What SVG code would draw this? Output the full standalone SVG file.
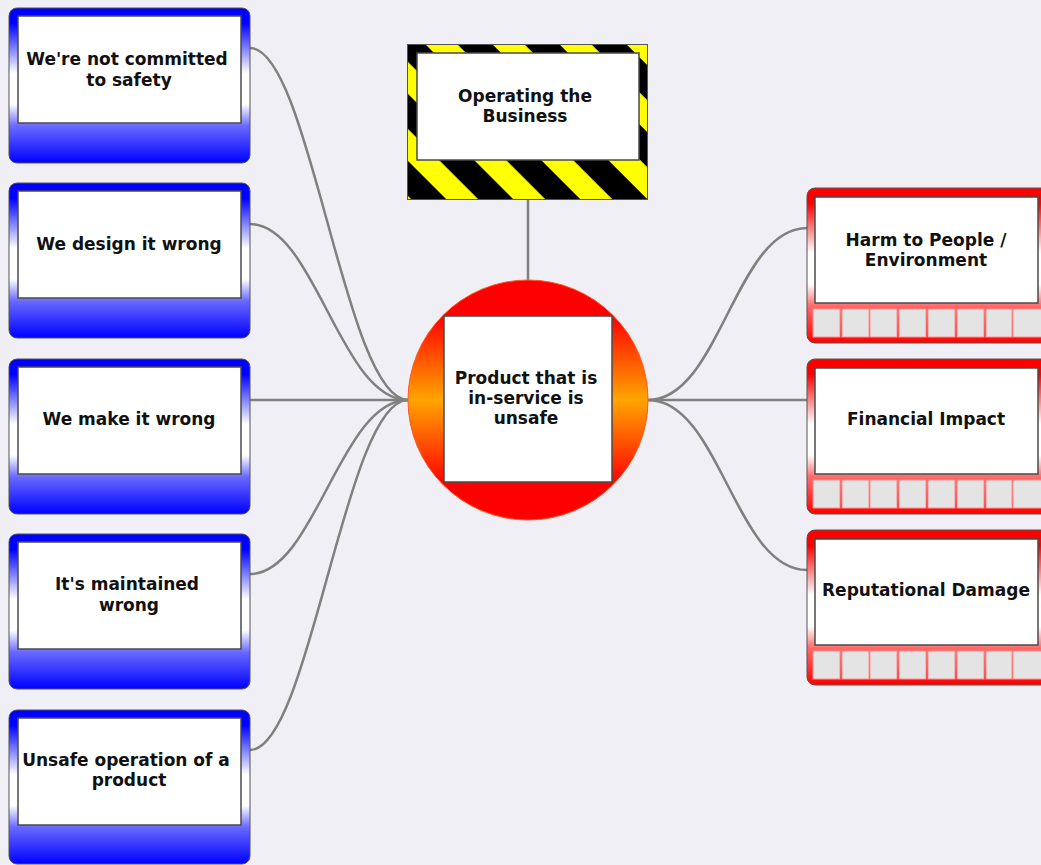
<svg xmlns="http://www.w3.org/2000/svg" width="1041" height="865" viewBox="0 0 1041 865">
<defs>
<linearGradient id="gBlue" x1="0" y1="0" x2="0" y2="1">
<stop offset="0" stop-color="#0000ff"/>
<stop offset="0.1" stop-color="#0000ff"/>
<stop offset="0.42" stop-color="#ffffff"/>
<stop offset="0.62" stop-color="#ffffff"/>
<stop offset="0.76" stop-color="#6a6aff"/>
<stop offset="1" stop-color="#0000ff"/>
</linearGradient>
<linearGradient id="gRed" x1="0" y1="0" x2="0" y2="1">
<stop offset="0" stop-color="#ff0000"/>
<stop offset="0.1" stop-color="#ff0000"/>
<stop offset="0.42" stop-color="#ffffff"/>
<stop offset="0.62" stop-color="#ffffff"/>
<stop offset="0.76" stop-color="#ff6a6a"/>
<stop offset="1" stop-color="#ff0000"/>
</linearGradient>
<linearGradient id="gCircle" x1="0" y1="0" x2="0" y2="1">
<stop offset="0" stop-color="#ff0000"/>
<stop offset="0.15" stop-color="#ff0000"/>
<stop offset="0.5" stop-color="#ffa500"/>
<stop offset="0.85" stop-color="#ff0000"/>
<stop offset="1" stop-color="#ff0000"/>
</linearGradient>
<pattern id="stripes" patternUnits="userSpaceOnUse" x="32.5" y="0" width="47.4" height="60" patternTransform="rotate(-45)">
<rect x="0" y="0" width="47.4" height="60" fill="#000000"/>
<rect x="0" y="0" width="22.6" height="60" fill="#ffff00"/>
</pattern>
<style>
.conn{fill:none;stroke:#808080;stroke-width:2.5}
.outerB{fill:url(#gBlue);stroke:#555;stroke-width:1}
.outerR{fill:url(#gRed);stroke:#555;stroke-width:1}
.inner{fill:#ffffff;stroke:#4a4a4a;stroke-width:1.5}
.cell{fill:#e4e4e4;stroke:#ff9090;stroke-width:1}
.t{font-family:"DejaVu Sans",Verdana,sans-serif;font-weight:bold;font-size:17px;fill:#111;text-anchor:middle}
</style>
</defs>
<rect x="0" y="0" width="1041" height="865" fill="#efeff5"/>
<g id="connectors">
<path class="conn" d="M250,48 C310,48 345,400 408,400"/>
<path class="conn" d="M250,224 C315,224 340,400 408,400"/>
<path class="conn" d="M250,400 L408,400"/>
<path class="conn" d="M250,574 C315,574 340,400 408,400"/>
<path class="conn" d="M250,750 C310,750 345,400 408,400"/>
<path class="conn" d="M528,200 L528,280"/>
<path class="conn" d="M648,400 C720,400 735,228 807,228"/>
<path class="conn" d="M648,400 L807,400"/>
<path class="conn" d="M648,400 C720,400 735,570 807,570"/>
</g>
<g id="node-committed">
<rect class="outerB" x="9" y="8" width="241" height="155" rx="8"/>
<rect class="inner" x="18" y="16" width="223" height="107"/>
<text class="t" x="127" y="65">We're not committed</text>
<text class="t" x="129" y="86">to safety</text>
</g>
<g id="node-design">
<rect class="outerB" x="9" y="183" width="241" height="155" rx="8"/>
<rect class="inner" x="18" y="191" width="223" height="107"/>
<text class="t" x="129" y="250">We design it wrong</text>
</g>
<g id="node-make">
<rect class="outerB" x="9" y="359" width="241" height="155" rx="8"/>
<rect class="inner" x="18" y="367" width="223" height="107"/>
<text class="t" x="129" y="425">We make it wrong</text>
</g>
<g id="node-maintained">
<rect class="outerB" x="9" y="534" width="241" height="155" rx="8"/>
<rect class="inner" x="18" y="542" width="223" height="107"/>
<text class="t" x="127" y="590">It's maintained</text>
<text class="t" x="129" y="611">wrong</text>
</g>
<g id="node-operation">
<rect class="outerB" x="9" y="710" width="241" height="154" rx="8"/>
<rect class="inner" x="18" y="718" width="223" height="107"/>
<text class="t" x="126" y="766">Unsafe operation of a</text>
<text class="t" x="129" y="786">product</text>
</g>
<g id="node-business">
<rect x="407.5" y="44.5" width="240" height="155" fill="url(#stripes)" stroke="#555" stroke-width="1"/>
<rect class="inner" x="417" y="53" width="222" height="107"/>
<text class="t" x="525" y="102">Operating the</text>
<text class="t" x="525" y="122">Business</text>
</g>
<g id="node-product">
<circle cx="528" cy="400" r="120" fill="url(#gCircle)" stroke="#ff5a1e" stroke-width="1"/>
<rect class="inner" x="444" y="316" width="168" height="166"/>
<text class="t" x="526" y="384">Product that is</text>
<text class="t" x="526" y="404">in-service is</text>
<text class="t" x="526" y="424">unsafe</text>
</g>
<g id="node-harm">
<rect class="outerR" x="807" y="188" width="242" height="155" rx="8"/>
<rect class="inner" x="815" y="197" width="223" height="106"/>
<g>
<rect class="cell" x="813" y="309" width="27" height="28"/><rect class="cell" x="842" y="309" width="27" height="28"/><rect class="cell" x="870" y="309" width="27" height="28"/><rect class="cell" x="899" y="309" width="27" height="28"/><rect class="cell" x="928" y="309" width="27" height="28"/><rect class="cell" x="957" y="309" width="27" height="28"/><rect class="cell" x="986" y="309" width="26" height="28"/><rect class="cell" x="1013" y="309" width="30" height="28"/>
</g>
<text class="t" x="926" y="246">Harm to People /</text>
<text class="t" x="926" y="266">Environment</text>
</g>
<g id="node-financial">
<rect class="outerR" x="807" y="359" width="242" height="155" rx="8"/>
<rect class="inner" x="815" y="368" width="223" height="106"/>
<g>
<rect class="cell" x="813" y="480" width="27" height="28"/><rect class="cell" x="842" y="480" width="27" height="28"/><rect class="cell" x="870" y="480" width="27" height="28"/><rect class="cell" x="899" y="480" width="27" height="28"/><rect class="cell" x="928" y="480" width="27" height="28"/><rect class="cell" x="957" y="480" width="27" height="28"/><rect class="cell" x="986" y="480" width="26" height="28"/><rect class="cell" x="1013" y="480" width="30" height="28"/>
</g>
<text class="t" x="926" y="425">Financial Impact</text>
</g>
<g id="node-reputational">
<rect class="outerR" x="807" y="530" width="242" height="155" rx="8"/>
<rect class="inner" x="815" y="539" width="223" height="106"/>
<g>
<rect class="cell" x="813" y="651" width="27" height="28"/><rect class="cell" x="842" y="651" width="27" height="28"/><rect class="cell" x="870" y="651" width="27" height="28"/><rect class="cell" x="899" y="651" width="27" height="28"/><rect class="cell" x="928" y="651" width="27" height="28"/><rect class="cell" x="957" y="651" width="27" height="28"/><rect class="cell" x="986" y="651" width="26" height="28"/><rect class="cell" x="1013" y="651" width="30" height="28"/>
</g>
<text class="t" x="926" y="596">Reputational Damage</text>
</g>
</svg>
